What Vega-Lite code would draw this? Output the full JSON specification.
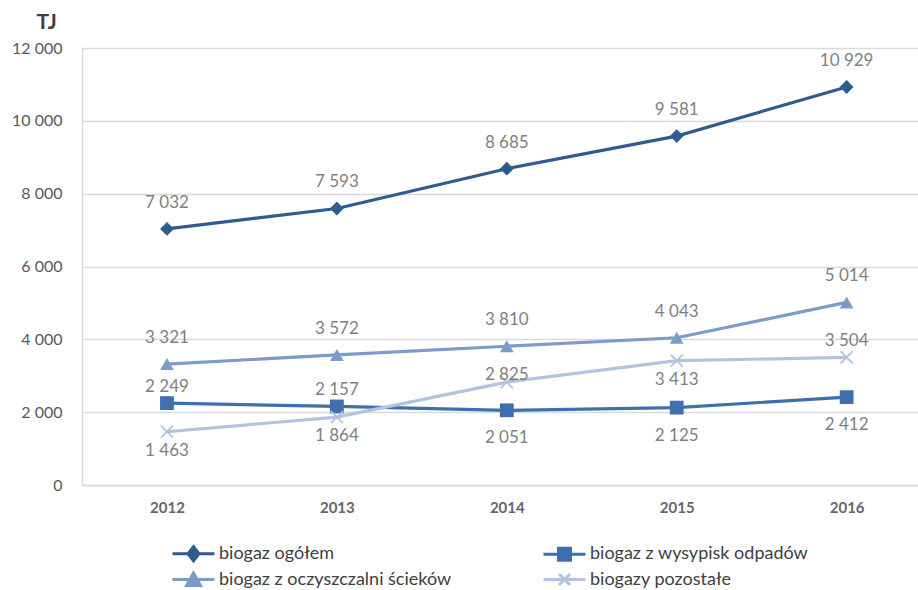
{
  "$schema": "https://vega.github.io/schema/vega-lite/v6.json",
  "width": 836,
  "height": 437,
  "autosize": {"type": "none"},
  "padding": {"left": 82, "top": 48, "right": 0, "bottom": 105},
  "background": "white",
  "config": {
    "view": {"stroke": null},
    "font": "Lato",
    "locale": {"number": {"decimal": ",", "thousands": " ", "grouping": [3], "currency": ["", " zł"]}}
  },
  "data": {
    "values": [
      {"year": 2012, "series": "biogaz ogółem", "value": 7032},
      {"year": 2013, "series": "biogaz ogółem", "value": 7593},
      {"year": 2014, "series": "biogaz ogółem", "value": 8685},
      {"year": 2015, "series": "biogaz ogółem", "value": 9581},
      {"year": 2016, "series": "biogaz ogółem", "value": 10929},
      {"year": 2012, "series": "biogaz z wysypisk odpadów", "value": 2249},
      {"year": 2013, "series": "biogaz z wysypisk odpadów", "value": 2157},
      {"year": 2014, "series": "biogaz z wysypisk odpadów", "value": 2051},
      {"year": 2015, "series": "biogaz z wysypisk odpadów", "value": 2125},
      {"year": 2016, "series": "biogaz z wysypisk odpadów", "value": 2412},
      {"year": 2012, "series": "biogaz z oczyszczalni ścieków", "value": 3321},
      {"year": 2013, "series": "biogaz z oczyszczalni ścieków", "value": 3572},
      {"year": 2014, "series": "biogaz z oczyszczalni ścieków", "value": 3810},
      {"year": 2015, "series": "biogaz z oczyszczalni ścieków", "value": 4043},
      {"year": 2016, "series": "biogaz z oczyszczalni ścieków", "value": 5014},
      {"year": 2012, "series": "biogazy pozostałe", "value": 1463},
      {"year": 2013, "series": "biogazy pozostałe", "value": 1864},
      {"year": 2014, "series": "biogazy pozostałe", "value": 2825},
      {"year": 2015, "series": "biogazy pozostałe", "value": 3413},
      {"year": 2016, "series": "biogazy pozostałe", "value": 3504}
    ]
  },
  "encoding": {
    "x": {
      "field": "year",
      "type": "quantitative",
      "scale": {"domain": [2011.5, 2016.42], "nice": false, "zero": false},
      "axis": {
        "title": null,
        "values": [2012, 2013, 2014, 2015, 2016],
        "format": "d",
        "grid": false,
        "ticks": false,
        "domainColor": "#D9D9D9",
        "domainWidth": 1.5,
        "labelPadding": 15,
        "labelFontSize": 15,
        "labelFontWeight": "bold",
        "labelColor": "#666666"
      }
    },
    "y": {
      "field": "value",
      "type": "quantitative",
      "scale": {"domain": [0, 12000], "nice": false},
      "axis": {
        "title": "TJ",
        "titleAngle": 0,
        "titleX": -46,
        "titleY": -26,
        "titleAlign": "left",
        "titleBaseline": "middle",
        "titleFontSize": 21,
        "titleFontWeight": "bold",
        "titleColor": "#404040",
        "values": [0, 2000, 4000, 6000, 8000, 10000, 12000],
        "format": ",d",
        "grid": true,
        "gridColor": "#D9D9D9",
        "gridWidth": 1.5,
        "ticks": false,
        "domainColor": "#D9D9D9",
        "domainWidth": 1.5,
        "labelPadding": 20,
        "labelFontSize": 16,
        "labelColor": "#595959"
      }
    }
  },
  "layer": [
    {
      "mark": {"type": "line", "strokeWidth": 3.2},
      "encoding": {
        "color": {
          "field": "series",
          "type": "nominal",
          "scale": {
            "domain": ["biogaz ogółem", "biogaz z wysypisk odpadów", "biogaz z oczyszczalni ścieków", "biogazy pozostałe"],
            "range": ["#2F5C8F", "#3F6FAE", "#7C9BCB", "#B3C3DF"]
          },
          "legend": {
            "title": null,
            "orient": "none",
            "direction": "horizontal",
            "legendX": 100,
            "legendY": 494,
            "columns": 2,
            "columnPadding": 85,
            "rowPadding": 0,
            "padding": 0,
            "symbolSize": 400,
            "symbolStrokeWidth": 3,
            "labelOffset": 14,
            "labelFontSize": 18,
            "labelColor": "#404040",
            "labelLimit": 400,
            "encode": {
              "symbols": {
                "update": {
                  "shape": {"signal": "datum.value === 'biogaz ogółem' ? 'M-2.1,0H2.1M0,-0.7L0.55,0L0,0.7L-0.55,0Z' : datum.value === 'biogaz z wysypisk odpadów' ? 'M-2.1,0H2.1M-0.6,-0.6H0.6V0.6H-0.6Z' : datum.value === 'biogaz z oczyszczalni ścieków' ? 'M-2.1,0H2.1M0,-0.65L0.7,0.6H-0.7Z' : 'M-2.1,0H2.1M-0.55,-0.55L0.55,0.55M-0.55,0.55L0.55,-0.55'"},
                  "fill": {"signal": "scale('color', datum.value)"},
                  "stroke": {"signal": "scale('color', datum.value)"},
                  "strokeWidth": {"value": 3},
                  "opacity": {"value": 1}
                }
              }
            }
          }
        }
      }
    },
    {
      "transform": [{"filter": "datum.series !== 'biogazy pozostałe'"}],
      "mark": {"type": "point", "filled": true, "opacity": 1},
      "encoding": {
        "color": {"field": "series", "type": "nominal"},
        "shape": {
          "field": "series",
          "type": "nominal",
          "scale": {
            "domain": ["biogaz ogółem", "biogaz z wysypisk odpadów", "biogaz z oczyszczalni ścieków"],
            "range": ["diamond", "square", "triangle-up"]
          },
          "legend": null
        },
        "size": {
          "field": "series",
          "type": "nominal",
          "scale": {
            "domain": ["biogaz ogółem", "biogaz z wysypisk odpadów", "biogaz z oczyszczalni ścieków"],
            "range": [190, 190, 240]
          },
          "legend": null
        }
      }
    },
    {
      "transform": [{"filter": "datum.series === 'biogazy pozostałe'"}],
      "mark": {"type": "point", "filled": false, "opacity": 1, "strokeWidth": 1.8, "size": 144, "shape": "M-1,-1L1,1M-1,1L1,-1"},
      "encoding": {
        "color": {"field": "series", "type": "nominal"}
      }
    },
    {
      "transform": [{"filter": "datum.series === 'biogaz ogółem' || datum.series === 'biogaz z oczyszczalni ścieków'"}],
      "mark": {"type": "text", "dy": -26, "fontSize": 17, "color": "#7F7F7F", "baseline": "middle"},
      "encoding": {"text": {"field": "value", "type": "quantitative", "format": ",d"}}
    },
    {
      "transform": [{"filter": "(datum.series === 'biogaz z wysypisk odpadów' && datum.year <= 2013) || (datum.series === 'biogazy pozostałe' && datum.year === 2016)"}],
      "mark": {"type": "text", "dy": -16, "fontSize": 17, "color": "#7F7F7F", "baseline": "middle"},
      "encoding": {"text": {"field": "value", "type": "quantitative", "format": ",d"}}
    },
    {
      "transform": [{"filter": "datum.series === 'biogazy pozostałe' && datum.year === 2014"}],
      "mark": {"type": "text", "dy": -7, "fontSize": 17, "color": "#7F7F7F", "baseline": "middle"},
      "encoding": {"text": {"field": "value", "type": "quantitative", "format": ",d"}}
    },
    {
      "transform": [{"filter": "datum.series === 'biogazy pozostałe' && datum.year !== 2014 && datum.year !== 2016"}],
      "mark": {"type": "text", "dy": 19, "fontSize": 17, "color": "#7F7F7F", "baseline": "middle"},
      "encoding": {"text": {"field": "value", "type": "quantitative", "format": ",d"}}
    },
    {
      "transform": [{"filter": "datum.series === 'biogaz z wysypisk odpadów' && datum.year >= 2014"}],
      "mark": {"type": "text", "dy": 28, "fontSize": 17, "color": "#7F7F7F", "baseline": "middle"},
      "encoding": {"text": {"field": "value", "type": "quantitative", "format": ",d"}}
    }
  ]
}
